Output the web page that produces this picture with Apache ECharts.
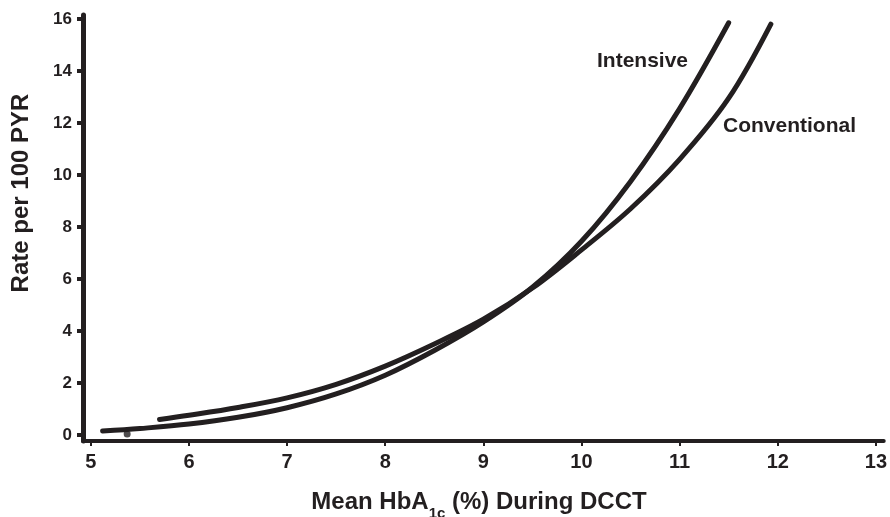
<!DOCTYPE html>
<html>
<head>
<meta charset="utf-8">
<script src="https://cdn.jsdelivr.net/npm/echarts@6/dist/echarts.min.js"></script>
<style>
  html, body { margin: 0; padding: 0; background: #ffffff; }
  #chart { width: 890px; height: 517px; }
</style>
</head>
<body>
<div id="chart"></div>
<script>
// Rate of retinopathy progression vs. mean HbA1c, by treatment group
const hba1cIntensive = [5.12, 5.5, 6.0, 6.5, 7.0, 7.5, 8.0, 8.5, 9.0, 9.5, 10.0, 10.5, 11.0, 11.5];
const rateIntensive = [0.15, 0.25, 0.42, 0.68, 1.05, 1.58, 2.30, 3.25, 4.35, 5.68, 7.45, 9.75, 12.55, 15.85];

const hba1cConventional = [5.7, 6.0, 6.5, 7.0, 7.5, 8.0, 8.5, 9.0, 9.5, 10.0, 10.5, 11.0, 11.5, 11.93];
const rateConventional = [0.60, 0.76, 1.06, 1.43, 1.95, 2.65, 3.50, 4.45, 5.65, 7.12, 8.70, 10.6, 12.95, 15.8];

// small stray dot printed just under the intensive curve
const strayDot = [[5.37, 0.04]];

const xTickValues = [5, 6, 7, 8, 9, 10, 11, 12, 13];
const yTickValues = [0, 2, 4, 6, 8, 10, 12, 14, 16];

const seriesNames = ['Intensive', 'Conventional'];
const xTitleParts = ['Mean HbA', '1c', ' (%) During DCCT'];
const yTitle = 'Rate per 100 PYR';

const INK = '#231f20';
const FONT = '"Liberation Sans", Arial, Helvetica, sans-serif';

function pairs(xs, ys) {
  return xs.map((x, i) => [x, ys[i]]);
}

// Measure text so the subscripted axis title can be assembled piece by piece
const measureCtx = document.createElement('canvas').getContext('2d');
function textWidth(str, size) {
  measureCtx.font = 'bold ' + size + 'px ' + FONT;
  return measureCtx.measureText(str).width;
}

const mainSize = 24, subSize = 15;
const w1 = textWidth(xTitleParts[0], mainSize);
const w2 = textWidth(xTitleParts[1], subSize);
const w3 = textWidth(xTitleParts[2], mainSize);
const titleCenterX = 479;
const titleStart = titleCenterX - (w1 + w2 + w3) / 2;

const lineStyle = { color: INK, width: 5, cap: 'round', join: 'round' };

const chart = echarts.init(document.getElementById('chart'), null, { renderer: 'canvas' });

chart.setOption({
  animation: false,
  backgroundColor: '#ffffff',
  grid: { left: 83, right: 5, top: 15, bottom: 76, containLabel: false },
  xAxis: {
    type: 'value',
    min: 4.92,
    max: 13.08,
    splitLine: { show: false },
    axisLine: { onZero: false, lineStyle: { color: INK, width: 4 } },
    axisTick: { show: true, customValues: xTickValues, length: 5, lineStyle: { color: INK, width: 2 } },
    axisLabel: {
      customValues: xTickValues,
      margin: 11,
      color: INK,
      fontFamily: FONT,
      fontWeight: 'bold',
      fontSize: 20
    }
  },
  yAxis: {
    type: 'value',
    min: -0.23,
    max: 16.15,
    splitLine: { show: false },
    axisLine: { onZero: false, lineStyle: { color: INK, width: 5 } },
    axisTick: { show: true, customValues: yTickValues, length: 6, lineStyle: { color: INK, width: 4 } },
    axisLabel: {
      customValues: yTickValues,
      margin: 11,
      color: INK,
      fontFamily: FONT,
      fontWeight: 'bold',
      fontSize: 17
    }
  },
  series: [
    {
      name: seriesNames[0],
      type: 'line',
      data: pairs(hba1cIntensive, rateIntensive),
      smooth: 0.35,
      showSymbol: false,
      lineStyle: lineStyle
    },
    {
      name: seriesNames[1],
      type: 'line',
      data: pairs(hba1cConventional, rateConventional),
      smooth: 0.35,
      showSymbol: false,
      lineStyle: lineStyle
    },
    {
      type: 'scatter',
      data: strayDot,
      symbol: 'circle',
      symbolSize: 7,
      itemStyle: { color: INK },
      silent: true
    }
  ],
  graphic: [
    {
      type: 'text',
      x: 597, y: 61,
      style: { text: seriesNames[0], fill: INK, font: 'bold 21px ' + FONT, textAlign: 'left', textVerticalAlign: 'middle' }
    },
    {
      type: 'text',
      x: 723, y: 126,
      style: { text: seriesNames[1], fill: INK, font: 'bold 21px ' + FONT, textAlign: 'left', textVerticalAlign: 'middle' }
    },
    {
      type: 'text',
      x: 21, y: 193,
      rotation: Math.PI / 2,
      style: { text: yTitle, fill: INK, font: 'bold 24px ' + FONT, textAlign: 'center', textVerticalAlign: 'middle' }
    },
    {
      type: 'text',
      x: titleStart, y: 502,
      style: { text: xTitleParts[0], fill: INK, font: 'bold ' + mainSize + 'px ' + FONT, textAlign: 'left', textVerticalAlign: 'middle' }
    },
    {
      type: 'text',
      x: titleStart + w1, y: 514,
      style: { text: xTitleParts[1], fill: INK, font: 'bold ' + subSize + 'px ' + FONT, textAlign: 'left', textVerticalAlign: 'middle' }
    },
    {
      type: 'text',
      x: titleStart + w1 + w2, y: 502,
      style: { text: xTitleParts[2], fill: INK, font: 'bold ' + mainSize + 'px ' + FONT, textAlign: 'left', textVerticalAlign: 'middle' }
    }
  ]
});
</script>
</body>
</html>
